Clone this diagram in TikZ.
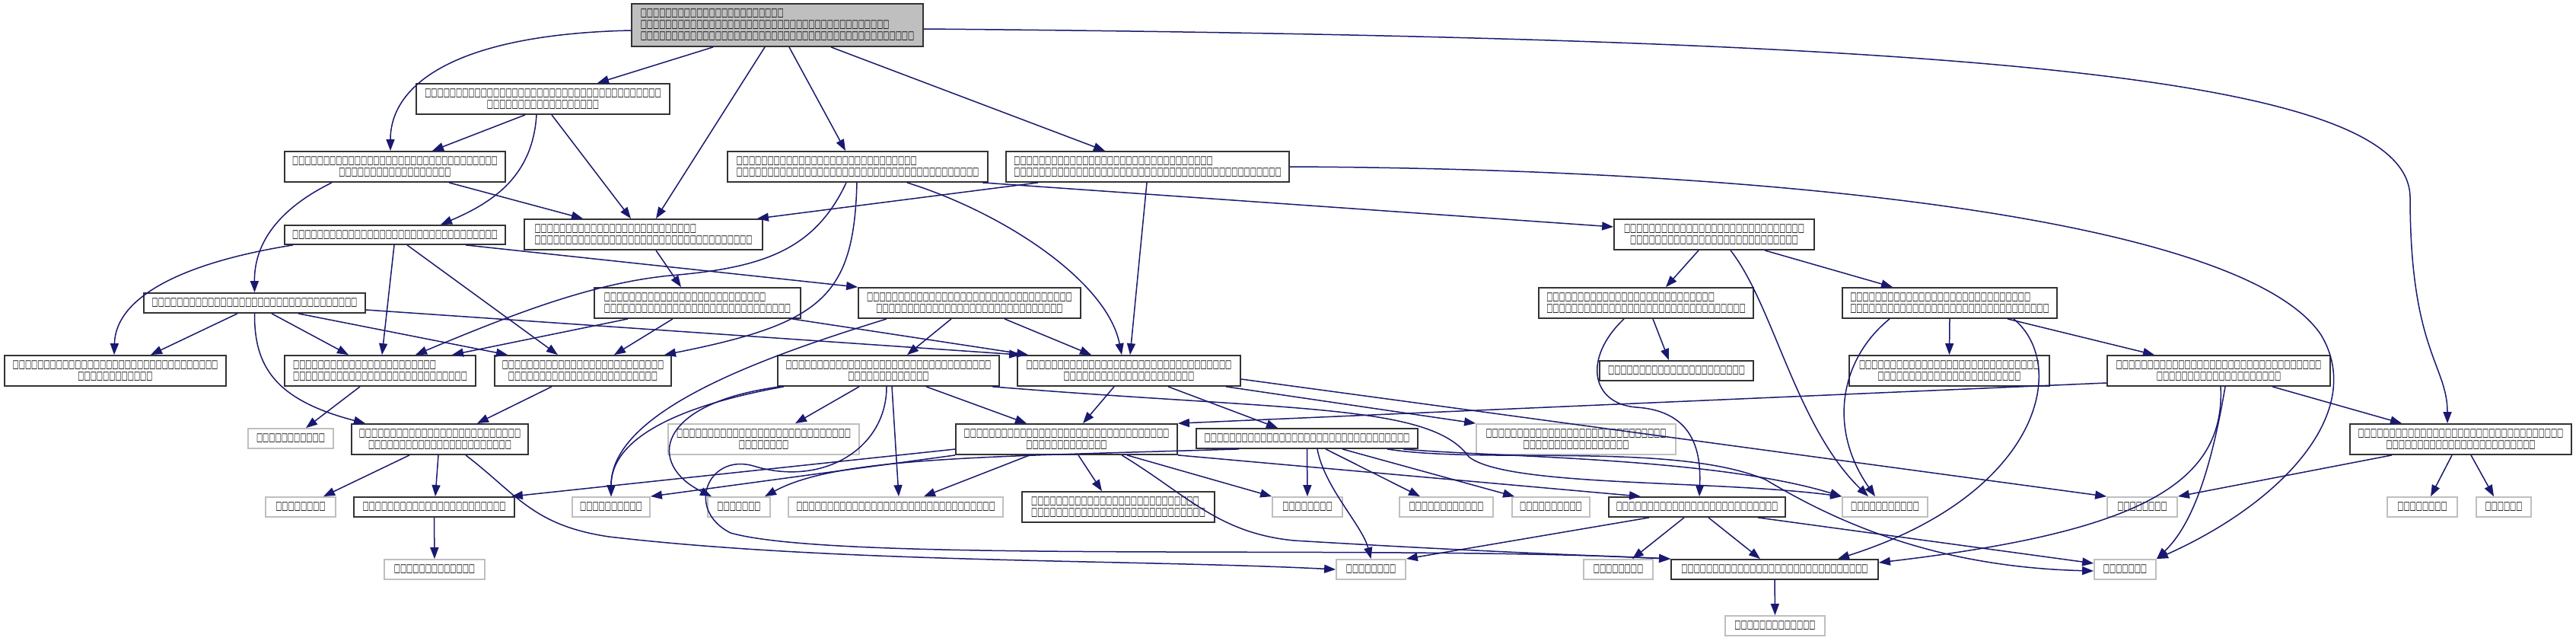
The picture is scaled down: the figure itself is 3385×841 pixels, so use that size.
\documentclass[tikz,border=0pt]{standalone}
\usepackage{fontspec}
\usetikzlibrary{arrows.meta,calc}
\newfontfamily\dvz{DejaVu Sans Bold}
\definecolor{eblue}{HTML}{191970}
\definecolor{gbord}{HTML}{BFBFBF}
\definecolor{rootfill}{HTML}{BFBFBF}
\newlength\gw
\newlength\gh
\newlength\gd
\ExplSyntaxOn
\NewDocumentCommand\tf{m}{\prg_replicate:nn{#1}{□}}
\ExplSyntaxOff
\begin{document}
\settowidth\gw{\dvz\fontsize{10}{12}\selectfont □}
\settoheight\gh{\dvz\fontsize{10}{12}\selectfont □}
\settodepth\gd{\dvz\fontsize{10}{12}\selectfont □}
\ifdim\gw<0.5pt \global\gw=8.5pt\fi
\ifdim\gh<0.5pt \global\gh=7pt\fi
\pgfmathsetmacro\tfs{10*11.5/(\gh+\gd)}
\pgfmathsetmacro\fst{min(1,8.17/(\gw*\tfs/10))}
\newfontfamily\dv[FakeStretch=\fst]{DejaVu Sans Bold}
\begin{tikzpicture}[x=1pt,y=-1pt]
\tikzset{
 base/.style={draw=black!80, line width=1.8pt, fill=white, inner sep=0pt, align=center, font=\dv\fontsize{\tfs}{15}\selectfont},
 gr/.style={base, draw=gbord},
 lf/.style={base, align=left},
 sz/.style 2 args={minimum width=#1pt, minimum height=#2pt},
 e/.style={draw=eblue, line width=1.5pt, -{Triangle[length=15pt,width=11pt]}},
}
\useasboundingbox (0,0) rectangle (3385,841);
% nodes
\node[lf, fill=rootfill, sz={383}{56}] (root) at (1021.5,33) {\tf{23}\\\tf{40}\\\tf{44}};
\node[base, sz={333}{40}] (n2) at (713.5,130) {\tf{38}\\\tf{18}};
\node[base, sz={290}{40}] (n3) at (519,219) {\tf{33}\\\tf{18}};
\node[lf, sz={342}{40}] (n4) at (1127,219) {\tf{29}\\\tf{39}};
\node[lf, sz={372}{40}] (n5) at (1508,219) {\tf{32}\\\tf{43}};
\node[lf, sz={313}{40}] (n6) at (845.5,308) {\tf{26}\\\tf{35}};
\node[base, sz={290}{25}] (n7) at (519,308.5) {\tf{33}};
\node[base, sz={263}{40}] (n8) at (2252.5,308) {\tf{29}\\\tf{27}};
\node[base, sz={291}{26}] (n9) at (334.5,398) {\tf{33}};
\node[lf, sz={271}{40}] (n10) at (916.5,398) {\tf{26}\\\tf{30}};
\node[base, sz={292}{40}] (n11) at (1274,398) {\tf{33}\\\tf{30}};
\node[lf, sz={282}{40}] (n12) at (2163,398) {\tf{27}\\\tf{32}};
\node[lf, sz={282}{40}] (n13) at (2562,398) {\tf{29}\\\tf{32}};
\node[base, sz={291}{40}] (n14) at (151.5,487) {\tf{33}\\\tf{12}};
\node[lf, sz={251}{40}] (n15) at (499.5,487) {\tf{23}\\\tf{28}};
\node[base, sz={232}{40}] (n16) at (766,487) {\tf{26}\\\tf{24}};
\node[base, sz={291}{40}] (n17) at (1167.5,487) {\tf{33}\\\tf{13}};
\node[base, sz={293}{40}] (n18) at (1483.5,487) {\tf{33}\\\tf{21}};
\node[base, sz={202}{26}] (n19) at (2203,487) {\tf{22}};
\node[base, sz={263}{40}] (n20) at (2561.5,487) {\tf{29}\\\tf{23}};
\node[base, sz={293}{40}] (n21) at (2915.5,487) {\tf{33}\\\tf{20}};
\node[gr, sz={112}{26}] (s1) at (382,576) {\tf{11}};
\node[base, sz={232}{40}] (n22) at (578,577) {\tf{26}\\\tf{23}};
\node[gr, sz={251}{40}] (s7) at (1003.5,577) {\tf{28}\\\tf{8}};
\node[base, sz={291}{40}] (n24) at (1401.5,577) {\tf{33}\\\tf{13}};
\node[base, sz={291}{26}] (n25) at (1717.5,576) {\tf{33}};
\node[gr, sz={262}{40}] (s8) at (2071,577) {\tf{29}\\\tf{17}};
\node[base, sz={291}{40}] (n29) at (3233.5,577) {\tf{33}\\\tf{24}};
\node[gr, sz={92}{26}] (s2) at (395,666) {\tf{8}};
\node[base, sz={211}{26}] (n23) at (570.5,666) {\tf{23}};
\node[gr, sz={102}{26}] (s4) at (803,666) {\tf{10}};
\node[gr, sz={82}{26}] (s5) at (971,666) {\tf{7}};
\node[gr, sz={282}{26}] (s6) at (1177,666) {\tf{32}};
\node[lf, sz={253}{40}] (n26) at (1469.5,666) {\tf{27}\\\tf{28}};
\node[gr, sz={92}{26}] (s9) at (1718,666) {\tf{8}};
\node[gr, sz={123}{26}] (s10) at (1900.5,666) {\tf{12}};
\node[gr, sz={102}{26}] (s11) at (2038,666) {\tf{10}};
\node[base, sz={232}{26}] (n27) at (2230,666) {\tf{26}};
\node[gr, sz={112}{26}] (s14) at (2477,666) {\tf{11}};
\node[gr, sz={92}{26}] (s15) at (2815,666) {\tf{8}};
\node[gr, sz={92}{26}] (s16) at (3183,666) {\tf{8}};
\node[gr, sz={72}{26}] (s17) at (3290,666) {\tf{6}};
\node[gr, sz={132}{26}] (s3) at (571,748) {\tf{13}};
\node[gr, sz={91}{26}] (s12) at (1801.5,748) {\tf{8}};
\node[gr, sz={91}{26}] (s13) at (2126.5,748) {\tf{8}};
\node[base, sz={272}{26}] (n28) at (2332,748) {\tf{30}};
\node[gr, sz={81}{26}] (s18) at (2792.5,748) {\tf{7}};
\node[gr, sz={131}{26}] (s19) at (2332.5,822) {\tf{13}};
% edges
\draw[e] ([xshift=-84.5pt]root.south) -- ([xshift=71.5pt]n2.north);
\draw[e] ([xshift=-16.5pt]root.south) -- ([xshift=16.5pt]n6.north);
\draw[e] ([xshift=15.5pt]root.south) -- ([xshift=-16pt]n4.north);
\draw[e] ([xshift=70.5pt]root.south) -- ([xshift=-56pt]n5.north);
\draw[e] ([yshift=-7pt]root.west) .. controls (600,45) and (513,110) .. ([xshift=-6pt]n3.north);
\draw[e] ([yshift=-5pt]root.east) .. controls (2600,50) and (3167,100) .. (3167,260) .. controls (3167,460) and (3216,480) .. ([xshift=-17.5pt]n29.north);
\draw[e] ([xshift=-23.5pt]n2.south) -- ([xshift=49pt]n3.north);
\draw[e] ([xshift=11.5pt]n2.south) -- ([xshift=-16.5pt]n6.north);
\draw[e] ([xshift=-8.5pt]n2.south) .. controls (700,230) and (650,265) .. ([xshift=60pt]n7.north);
\draw[e] ([xshift=71pt]n3.south) -- ([xshift=-79.5pt]n6.north);
\draw[e] ([xshift=-83pt]n3.south) .. controls (365,275) and (334,320) .. (n9.north);
\draw[e] ([xshift=-15pt]n4.south) .. controls (1070,330) and (1000,352) .. (880,362) .. controls (780,372) and (680,410) .. ([xshift=46.5pt]n15.north);
\draw[e] ([xshift=-1pt]n4.south) .. controls (1122,390) and (1080,425) .. ([xshift=107pt]n16.north);
\draw[e] ([xshift=65pt]n4.south) .. controls (1320,280) and (1455,370) .. ([xshift=-9.5pt]n18.north);
\draw[e] ([xshift=-8pt]n4.south east) -- ([yshift=10pt]n8.west);
\draw[e] ([xshift=-144pt]n5.south) -- ([xshift=-8pt]n6.north east);
\draw[e] ([xshift=-1pt]n5.south) -- ([xshift=1.5pt]n18.north);
\draw[e] (n5.east) .. controls (2350,222) and (2950,290) .. (3050,440) .. controls (3110,540) and (3000,660) .. (s18.north east);
\draw[e] ([xshift=-134pt]n7.south) .. controls (240,345) and (152,390) .. ([xshift=-1.5pt]n14.north);
\draw[e] ([xshift=-1pt]n7.south) -- ([xshift=2.5pt]n15.north);
\draw[e] ([xshift=16pt]n7.south) -- ([xshift=-33pt]n16.north);
\draw[e] ([xshift=93pt]n7.south) -- (n11.north west);
\draw[e] ([xshift=16.5pt]n6.south) -- ([xshift=-21.5pt]n10.north);
\draw[e] ([xshift=-22.5pt]n9.south) -- ([xshift=46.5pt]n14.north);
\draw[e] ([xshift=22.5pt]n9.south) -- ([xshift=-41.5pt]n15.north);
\draw[e] ([xshift=57.5pt]n9.south) -- ([xshift=-99pt]n16.north);
\draw[e] (n9.south) .. controls (334,480) and (360,525) .. ([xshift=-98pt]n22.north);
\draw[e] ([yshift=-9pt]n9.east) -- ([xshift=5pt]n18.north west);
\draw[e] ([xshift=-91.5pt]n10.south) -- ([xshift=94.5pt]n15.north);
\draw[e] ([xshift=-32.5pt]n10.south) -- ([xshift=41pt]n16.north);
\draw[e] ([xshift=124.5pt]n10.south) -- ([xshift=15pt]n18.north west);
\draw[e] ([xshift=-24pt]n11.south) -- ([xshift=24.5pt]n17.north);
\draw[e] ([xshift=46pt]n11.south) -- ([xshift=-49.5pt]n18.north);
\draw[e] ([xshift=-109pt]n11.south) .. controls (1000,470) and (803,540) .. (s4.north);
\draw[e] ([xshift=-38.5pt]n17.south) -- ([xshift=41.5pt]s7.north);
\draw[e] ([xshift=4.5pt]n17.south) -- ([xshift=4pt]s6.north);
\draw[e] ([xshift=49.5pt]n17.south) -- ([xshift=-52.5pt]n24.north);
\draw[e] ([xshift=-137.5pt]n17.south) .. controls (880,535) and (803,580) .. (s4.north);
\draw[e] ([xshift=-142.5pt]n17.south) .. controls (860,530) and (850,610) .. ([xshift=-36pt]s5.north);
\draw[e] ([xshift=-2.5pt]n17.south) .. controls (1165,590) and (1080,640) .. (990,612) .. controls (930,595) and (900,670) .. (960,700) .. controls (1100,740) and (1800,715) .. (n28.north west);
\draw[e] ([xshift=-10pt]n17.south east) .. controls (1700,540) and (1880,530) .. (1930,600) .. controls (1980,640) and (2250,630) .. (s14.north west);
\draw[e] ([xshift=-19.5pt]n18.south) -- ([xshift=21.5pt]n24.north);
\draw[e] ([xshift=51.5pt]n18.south) -- ([xshift=-38.5pt]n25.north);
\draw[e] ([xshift=127.5pt]n18.south) -- (s8.north west);
\draw[e] ([yshift=-11pt]n18.east) -- (s15.north west);
\draw[e] ([yshift=-16pt]n21.west) -- (n24.north east);
\draw[e] ([xshift=2.5pt]n21.south) .. controls (2925,640) and (2800,700) .. ([yshift=9pt]n28.east);
\draw[e] ([xshift=8.5pt]n21.south) .. controls (2905,620) and (2880,690) .. (s18.north east);
\draw[e] ([xshift=70.5pt]n21.south) -- ([xshift=-77.5pt]n29.north);
\draw[e] (n13.south) -- (n20.north);
\draw[e] ([xshift=76pt]n13.south) -- ([xshift=-84.5pt]n21.north);
\draw[e] ([xshift=-79pt]n13.south) .. controls (2420,470) and (2400,560) .. ([xshift=-13pt]s14.north);
\draw[e] ([xshift=84pt]n13.south) .. controls (2720,480) and (2680,650) .. ([xshift=83pt]n28.north);
\draw[e] ([xshift=-20.5pt]n8.south) -- ([xshift=26pt]n12.north);
\draw[e] ([xshift=66.5pt]n8.south) -- ([xshift=-75pt]n13.north);
\draw[e] ([xshift=21.5pt]n8.south) .. controls (2330,400) and (2360,560) .. ([xshift=-22pt]s14.north);
\draw[e] ([xshift=9pt]n12.south) -- ([xshift=-10pt]n19.north);
\draw[e] ([xshift=-29pt]n12.south) .. controls (2080,470) and (2090,530) .. (2150,535) .. controls (2230,540) and (2235,600) .. ([xshift=3pt]n27.north);
\draw[e] ([xshift=-90.5pt]n29.south) -- (s15.north east);
\draw[e] ([xshift=-11.5pt]n29.south) -- ([xshift=11pt]s16.north);
\draw[e] ([xshift=13.5pt]n29.south) -- ([xshift=-13pt]s17.north);
\draw[e] ([xshift=-63pt]n27.south) -- (s12.north east);
\draw[e] ([xshift=-17pt]n27.south) -- ([xshift=18.5pt]s13.north);
\draw[e] ([xshift=15pt]n27.south) -- ([xshift=-19pt]n28.north);
\draw[e] ([xshift=80pt]n27.south) -- ([yshift=8pt]s18.west);
\draw[e] (n28.south) -- (s19.north);
\draw[e] ([yshift=-13pt]n24.west) -- ([xshift=-5pt]n23.north east);
\draw[e] (n24.south west) -- (s4.north east);
\draw[e] ([xshift=-48.5pt]n24.south) -- ([xshift=37pt]s6.north);
\draw[e] ([xshift=15.5pt]n24.south) -- ([xshift=-21.5pt]n26.north);
\draw[e] ([xshift=79.5pt]n24.south) -- (s9.north west);
\draw[e] (n24.south east) -- ([xshift=-74pt]n27.north);
\draw[e] ([xshift=72.5pt]n24.south) .. controls (1560,650) and (1600,700) .. (1700,710) .. controls (1950,725) and (2100,730) .. (n28.north west);
\draw[e] ([xshift=-89.5pt]n25.south) .. controls (1300,600) and (1100,600) .. ([xshift=34pt]s5.north);
\draw[e] (n25.south) -- (s9.north);
\draw[e] ([xshift=24.5pt]n25.south) -- ([xshift=-34.5pt]s10.north);
\draw[e] ([xshift=46.5pt]n25.south) -- ([xshift=4pt]s11.north west);
\draw[e] ([xshift=13.5pt]n25.south) .. controls (1740,640) and (1790,690) .. (s12.north);
\draw[e] ([xshift=-20pt]n25.south east) .. controls (1950,600) and (2250,600) .. (s14.north west);
\draw[e] ([xshift=-41pt]n25.south east) .. controls (1950,610) and (2200,580) .. (2320,630) .. controls (2420,690) and (2550,745) .. ([yshift=-2pt]s18.west);
\draw[e] ([xshift=-40pt]n22.south) -- ([xshift=30pt]s2.north);
\draw[e] ([xshift=-2pt]n22.south) -- ([xshift=1.5pt]n23.north);
\draw[e] ([xshift=34pt]n22.south) .. controls (680,650) and (700,690) .. (800,705) .. controls (1100,740) and (1500,735) .. (s12.west);
\draw[e] (n23.south) -- (s3.north);
\draw[e] ([xshift=-26.5pt]n15.south) -- ([xshift=20pt]s1.north);
\draw[e] ([xshift=-41pt]n16.south) -- ([xshift=49pt]n22.north);
\end{tikzpicture}
\end{document}
